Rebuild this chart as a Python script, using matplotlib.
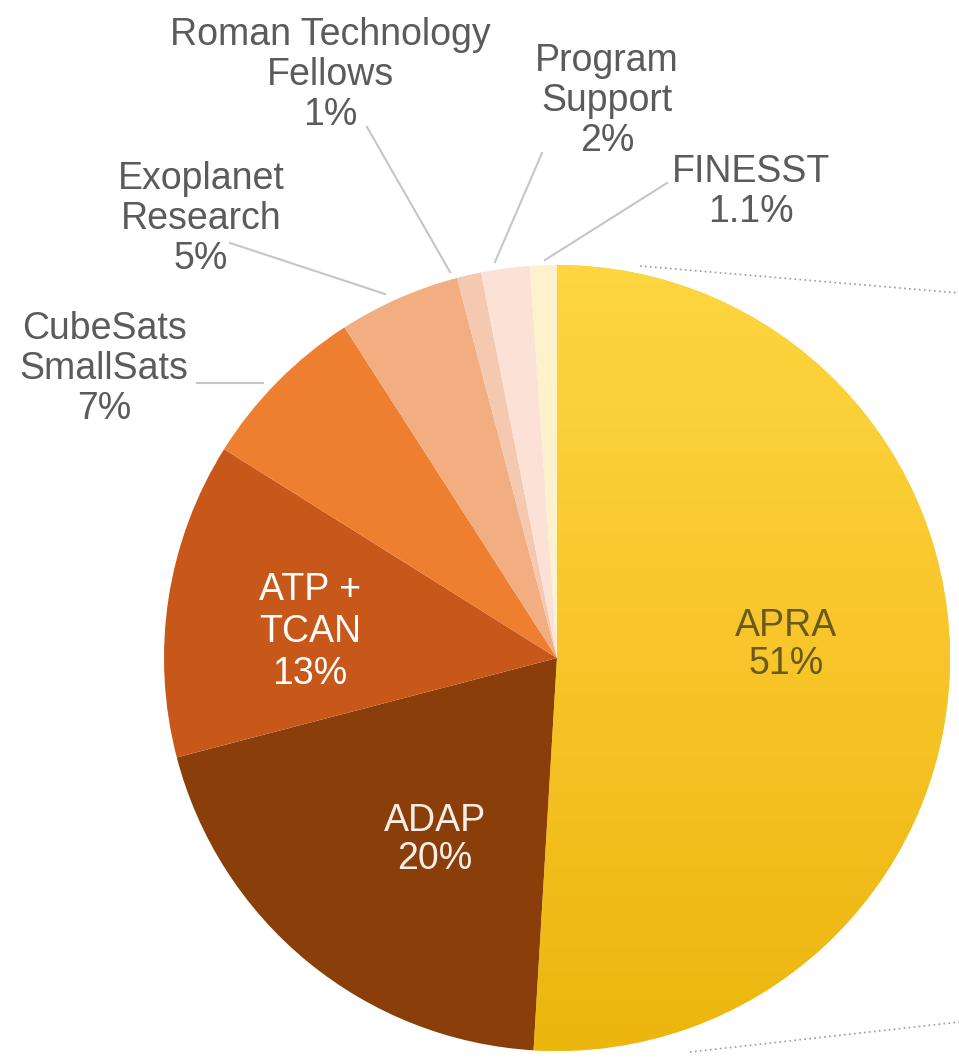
import numpy as np
import matplotlib
matplotlib.use("Agg")
import matplotlib.pyplot as plt
from matplotlib.colors import LinearSegmentedColormap

# shares of the budget, in the order they go round the pie (clockwise from top)
programs = ["APRA", "ADAP", "ATP +\nTCAN", "CubeSats\nSmallSats", "Exoplanet\nResearch",
            "Roman Technology\nFellows", "Program\nSupport", "FINESST"]
shares = [51, 20, 13, 7, 5, 1, 2, 1.1]
share_text = ["51%", "20%", "13%", "7%", "5%", "1%", "2%", "1.1%"]
colors = ["#F9C92E", "#8A3E0A", "#C8581A", "#EE7E30", "#F2AE80",
          "#F5C8B0", "#FCE2D6", "#FEF2CC"]

W, H = 959, 1058
plt.rcParams['font.family'] = ['Liberation Sans', 'DejaVu Sans']

fig = plt.figure(figsize=(W / 100, H / 100), dpi=100)
ax = fig.add_axes([0, 0, 1, 1])

def py(y):
    # pixel row -> data y
    return H - y

cx, cy, r = 557, 658, 393

wedges, _ = ax.pie(shares, colors=colors, startangle=90, counterclock=False,
                   center=(cx, py(cy)), radius=r, frame=True,
                   wedgeprops=dict(edgecolor="none"))
ax.set_xlim(0, W)
ax.set_ylim(0, H)
ax.set_aspect('equal')
ax.axis('off')

# dotted lines going off to the right
ax.plot([640, 959], [py(266), py(293)], ls=(0, (1, 2)), color="#9a9aa8", lw=1.2)
ax.plot([690, 959], [py(1052), py(1022)], ls=(0, (1, 2)), color="#9a9aa8", lw=1.2)

# soft vertical shading on the big APRA slice
grad = np.linspace(0, 1, 256).reshape(-1, 1)
cmap = LinearSegmentedColormap.from_list("apra", ["#FDD640", "#F8C52A", "#ECB60E"])
im = ax.imshow(grad, cmap=cmap, extent=[cx - r, cx + r, py(cy + r), py(cy - r)],
               origin='upper', aspect='auto', zorder=wedges[0].get_zorder() + 0.1)
im.set_clip_path(wedges[0])
ax.set_xlim(0, W)
ax.set_ylim(0, H)

grey = "#5b5b5f"
line_c = "#c4c6cc"
fs = 27

# inside labels
ax.text(786, py(645), programs[0] + "\n" + share_text[0], ha='center', va='center',
        fontsize=fs, color="#6a5a1e", linespacing=1.05, zorder=5)
ax.text(435, py(840), programs[1] + "\n" + share_text[1], ha='center', va='center',
        fontsize=fs, color="#fbeee6", linespacing=1.05, zorder=5)
ax.text(310, py(632), programs[2] + "\n" + share_text[2], ha='center', va='center',
        fontsize=27, color="white", linespacing=1.2, zorder=5)

# outside labels
outside = [
    (3, 104, 369),
    (4, 201, 219),
    (5, 330, 75),
    (6, 607, 101),
    (7, 751, 192),
]
for i, x, y in outside:
    ax.text(x, py(y), programs[i] + "\n" + share_text[i], ha='center', va='center',
            fontsize=fs, color=grey, linespacing=1.15, zorder=5)

# leader lines
leaders = [
    [(197, 383), (263, 383)],
    [(230, 243), (385, 294)],
    [(367, 127), (450, 272)],
    [(542, 153), (495, 262)],
    [(667, 183), (545, 260)],
]
for pts in leaders:
    xs = [p[0] for p in pts]
    ys = [py(p[1]) for p in pts]
    ax.plot(xs, ys, color=line_c, lw=1.5, zorder=1)

fig.savefig("out.png", dpi=100, facecolor="white")
